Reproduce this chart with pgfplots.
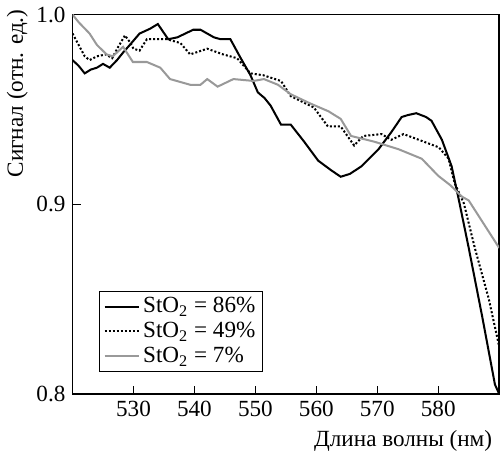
\documentclass[border=0pt]{standalone}
\usepackage{pgfplots}
\pgfplotsset{compat=1.18}
\usepackage{fontspec}
\setmainfont{Liberation Serif}
\begin{document}
\begin{tikzpicture}
\begin{axis}[
  scale only axis,
  width=212pt, height=188.5pt,
  xmin=520, xmax=590, ymin=0.8, ymax=1.0,
  xtick={530,540,...,580},
  ytick={0.8,0.9,1.0},
  xticklabel={\pgfmathprintnumber[assume math mode=true]{\tick}},
  yticklabel={\pgfmathprintnumber[assume math mode=true,fixed,fixed zerofill,precision=1]{\tick}},
  tick align=inside,
  xtick pos=bottom, ytick pos=left,
  major tick length=4pt,
  axis line style={line width=0.8pt},
  tick style={line width=0.6pt, black},
  tick label style={font=\fontsize{11.5}{13}\selectfont},
  label style={font=\fontsize{11.5}{13}\selectfont},
  xlabel={Длина волны (нм)},
  ylabel={Сигнал (отн. ед.)},
  xlabel style={at={(ticklabel cs:1)}, anchor=north east, yshift=0pt},
  ylabel style={at={(ticklabel cs:0.792,-2.5pt)}, anchor=south},
  legend cell align=left,
  legend style={at={(rel axis cs:0.062,0.058)}, anchor=south west,
    font=\fontsize{11.5}{12}\selectfont, draw=black, line width=0.6pt,
    inner xsep=2pt, inner ysep=1.3pt, nodes={inner sep=1.6pt}},
]
\addplot[black, line width=1pt] coordinates {
(520,0.976) (521,0.973) (522,0.969) (523,0.971) (524,0.972) (525,0.974)
(526.1,0.972) (527.3,0.976) (528.3,0.980) (529.4,0.984) (531,0.990)
(532.7,0.9925) (534,0.995) (535.7,0.987) (537.2,0.988) (538.5,0.990)
(539.8,0.992) (541,0.992) (542.1,0.990) (543.2,0.988) (544.3,0.987)
(545.9,0.987) (547.6,0.977) (549.2,0.968) (550.4,0.959) (551.5,0.956)
(552.5,0.952) (554.2,0.942) (555.8,0.942) (558,0.933) (560.3,0.923)
(562.4,0.918) (564,0.9145) (565.5,0.916) (567.4,0.920) (570.2,0.929)
(572.3,0.938) (574,0.946) (575,0.947) (576.4,0.948) (578,0.946)
(578.9,0.944) (580.6,0.934) (582.2,0.920) (583.4,0.902) (585,0.877)
(587.2,0.841) (589.3,0.805) (590,0.800)
};
\addlegendentry{StO\textsubscript{2} = 86\%}
\addplot[black, line width=1pt, densely dotted] coordinates {
(520,0.990) (521,0.984) (522,0.978) (522.8,0.976) (524,0.978) (525.5,0.979)
(526.5,0.977) (527.5,0.983) (528.6,0.989) (529.3,0.986) (530,0.982)
(531,0.981) (532.2,0.987) (535.5,0.987) (537.7,0.985) (539.3,0.979)
(542.1,0.982) (544.7,0.979) (547,0.977) (549.2,0.969) (551.3,0.968)
(554.2,0.965) (555.8,0.957) (559.6,0.951) (561.9,0.941) (564,0.941)
(566.2,0.931) (567.7,0.936) (570.7,0.937) (572.3,0.934) (574.3,0.937)
(576.8,0.934) (580.1,0.930) (581.7,0.924) (582.7,0.911) (584.2,0.9005)
(586,0.877) (588.3,0.850) (590,0.825)
};
\addlegendentry{StO\textsubscript{2} = 49\%}
\addplot[black!40, line width=1pt] coordinates {
(520,1.000) (521,0.996) (522.8,0.990) (524,0.984) (525.6,0.979)
(526.6,0.978) (528.3,0.983) (529.9,0.975) (532.2,0.975) (534.4,0.972)
(536,0.966) (539.3,0.963) (541,0.963) (542.1,0.966) (543.8,0.962)
(546.4,0.966) (549.7,0.965) (551.4,0.966) (553.7,0.963) (555.8,0.958)
(559.1,0.953) (562,0.949) (564,0.945) (565.7,0.936) (569.5,0.933)
(573.5,0.929) (577.3,0.924) (580,0.915) (582,0.910) (583.9,0.904)
(585,0.902) (587.2,0.891) (590,0.877)
};
\addlegendentry{StO\textsubscript{2} = 7\%}
\end{axis}
\end{tikzpicture}
\end{document}
